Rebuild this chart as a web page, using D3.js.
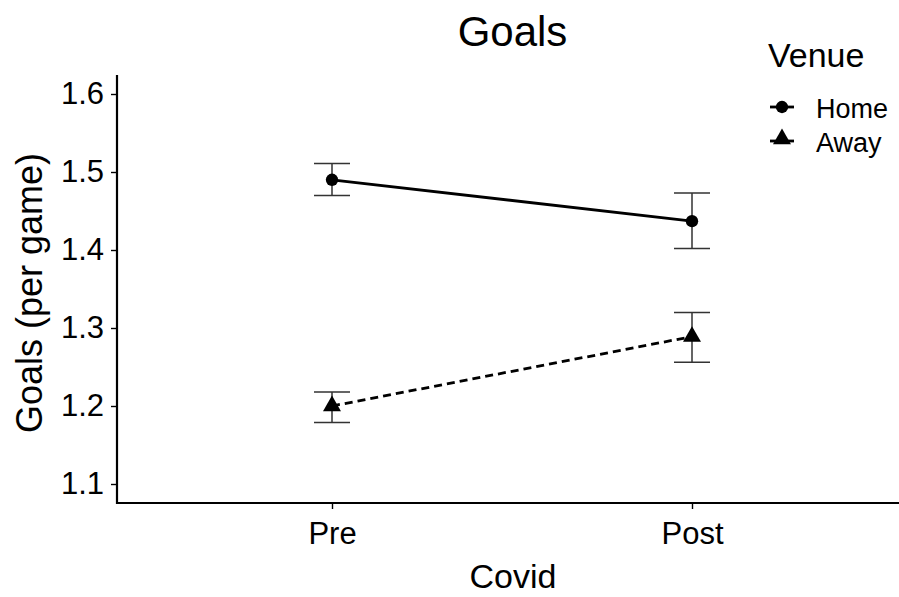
<!DOCTYPE html>
<html><head><meta charset="utf-8">
<script src="https://cdn.jsdelivr.net/npm/d3@7"></script>
<style>body{margin:0;background:#fff}text{font-family:"Liberation Sans",Arial,sans-serif}</style>
</head><body>
<svg id="c" width="899" height="597"></svg>
<script>
const categories = ["Pre", "Post"];
const venues = ["Home", "Away"];
const homeMean = [1.490, 1.437];
const homeLow = [1.470, 1.402];
const homeHigh = [1.511, 1.473];
const awayMean = [1.200, 1.289];
const awayLow = [1.179, 1.256];
const awayHigh = [1.218, 1.320];
const yTicks = [1.1, 1.2, 1.3, 1.4, 1.5, 1.6];

(function () {
const series = [
  {name: venues[0], mean: homeMean, low: homeLow, high: homeHigh, shape: "circle", dash: null},
  {name: venues[1], mean: awayMean, low: awayLow, high: awayHigh, shape: "triangle", dash: "8,5"}
];

const svg = d3.select("#c");
const pL = 117, pR = 908, pT = 75, pB = 503;
const x = d3.scalePoint().domain(categories).range([332, 692]);
const y = d3.scaleLinear().domain([1.6 - (pB - 94) / 780, 1.6 + (94 - pT) / 780]).range([pB, pT]);

const yAxis = svg.append("g").attr("transform", `translate(${pL},0)`)
  .call(d3.axisLeft(y).tickValues(yTicks).tickSize(6).tickPadding(7).tickFormat(d3.format(".1f")));
const xAxis = svg.append("g").attr("transform", `translate(0,${pB})`)
  .call(d3.axisBottom(x).tickSize(6).tickPadding(13));
[yAxis, xAxis].forEach(g => {
  g.select(".domain").remove();
  g.selectAll(".tick line").attr("stroke", "#000").attr("stroke-width", 1.4);
  g.selectAll(".tick text").attr("fill", "#000").style("font-size", "31px");
});
svg.append("path").attr("d", `M${pL},${pT}V${pB}H${pR}`)
  .attr("fill", "none").attr("stroke", "#000").attr("stroke-width", 2.2);

const tri = d3.symbol().type(d3.symbolTriangle).size(140);
const circ = d3.symbol().type(d3.symbolCircle).size(120);

series.forEach(s => {
  const g = svg.append("g");
  categories.forEach((c, i) => {
    const cx = x(c), hw = 18;
    g.append("path")
      .attr("d", `M${cx - hw},${y(s.high[i])}H${cx + hw}M${cx},${y(s.high[i])}V${y(s.low[i])}M${cx - hw},${y(s.low[i])}H${cx + hw}`)
      .attr("fill", "none").attr("stroke", "#333").attr("stroke-width", 1.5);
  });
  g.append("path")
    .attr("d", d3.line().x((d, i) => x(categories[i])).y(d => y(d))(s.mean))
    .attr("fill", "none").attr("stroke", "#000").attr("stroke-width", 2.8)
    .attr("stroke-dasharray", s.dash);
  categories.forEach((c, i) => {
    g.append("path").attr("d", s.shape === "circle" ? circ() : tri())
      .attr("transform", `translate(${x(c)},${y(s.mean[i])})`)
      .attr("fill", "#000");
  });
});

svg.append("text").attr("x", (pL + pR) / 2).attr("y", 46).attr("text-anchor", "middle")
  .style("font-size", "42px").attr("fill", "#000").text("Goals");
svg.append("text").attr("transform", `translate(42,${293}) rotate(-90)`)
  .attr("text-anchor", "middle").style("font-size", "36px").attr("fill", "#000").text("Goals (per game)");
svg.append("text").attr("x", 513).attr("y", 588).attr("text-anchor", "middle")
  .style("font-size", "34px").attr("fill", "#000").text("Covid");

const lg = svg.append("g");
lg.append("text").attr("x", 768).attr("y", 67).style("font-size", "34px").attr("fill", "#000").text("Venue");
series.forEach((s, i) => {
  const ly = 107 + i * 34;
  lg.append("line").attr("x1", 770).attr("x2", 794).attr("y1", ly).attr("y2", ly)
    .attr("stroke", "#000").attr("stroke-width", 2.8);
  lg.append("path").attr("d", s.shape === "circle" ? circ() : tri())
    .attr("transform", `translate(782,${ly - (s.shape === "triangle" ? 2 : 0)})`).attr("fill", "#000");
  lg.append("text").attr("x", 816).attr("y", ly + 11).style("font-size", "27px").attr("fill", "#000").text(s.name);
});
})();
</script>
</body></html>
